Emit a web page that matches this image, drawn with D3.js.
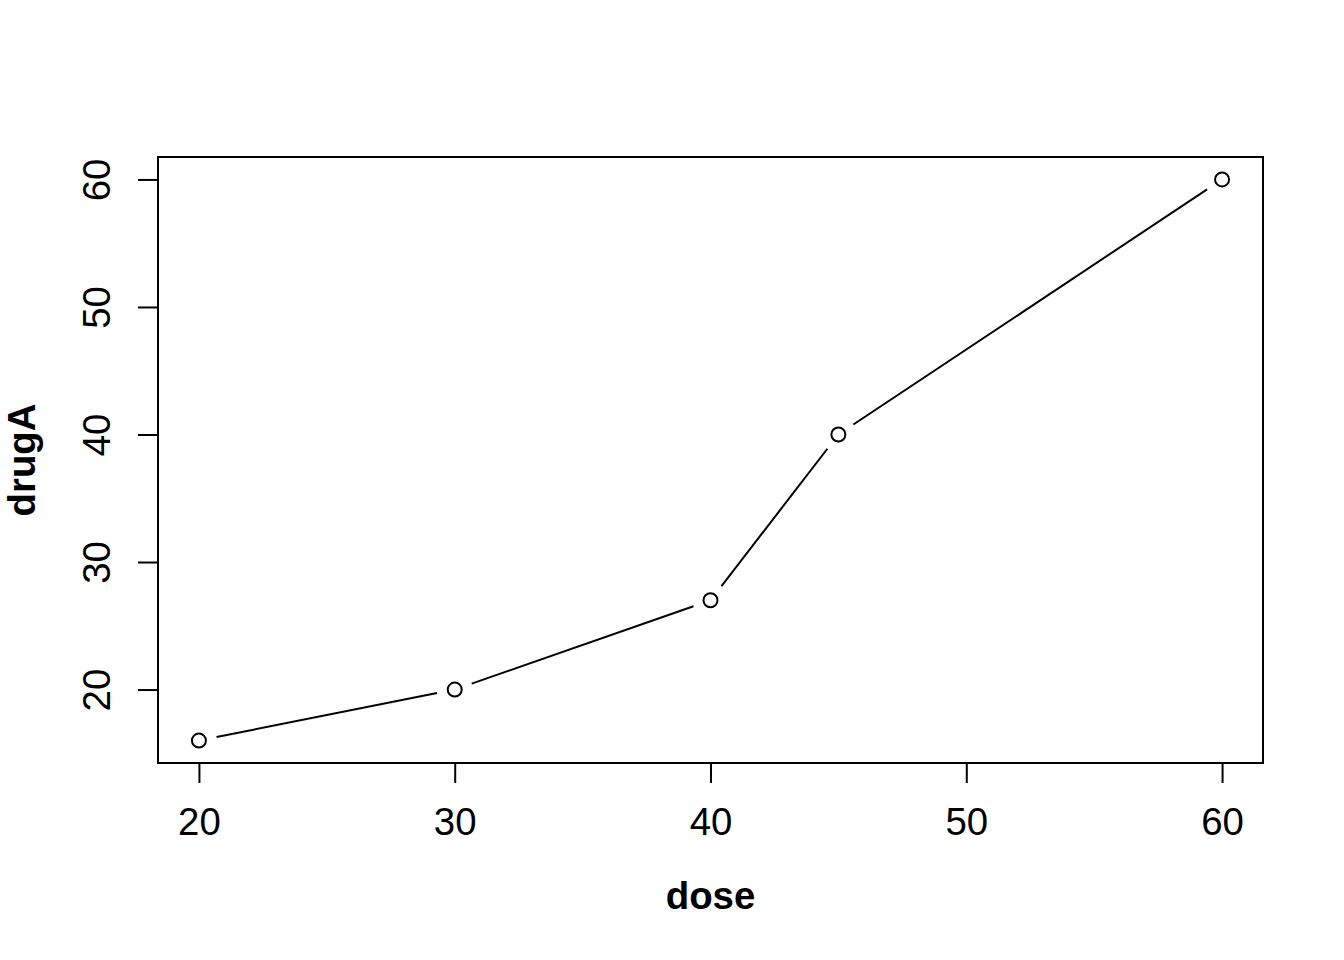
<!DOCTYPE html>
<html><head><meta charset="utf-8">
<script src="https://cdn.jsdelivr.net/npm/d3@7"></script>
<style>body{margin:0;background:#fff}</style>
</head><body>
<svg id="c" width="1344" height="960"></svg>
<script>
const dose = [20, 30, 40, 45, 60];
const drugA = [16, 20, 27, 40, 60];
const xTicks = [20, 30, 40, 50, 60];
const yTicks = [20, 30, 40, 50, 60];
const xLabel = "dose";
const yLabel = "drugA";

const svg = d3.select("#c");
const L = 158, R = 1263, T = 157, B = 763;
const font = "Liberation Sans, Arial, Helvetica, sans-serif";
const fs = 38.4;

const xe = (d3.max(dose) - d3.min(dose)) * 0.04;
const ye = (d3.max(drugA) - d3.min(drugA)) * 0.04;
const x = d3.scaleLinear().domain([d3.min(dose) - xe, d3.max(dose) + xe]).range([L, R]);
const y = d3.scaleLinear().domain([d3.min(drugA) - ye, d3.max(drugA) + ye]).range([B, T]);

svg.append("rect").attr("x", L).attr("y", T).attr("width", R - L).attr("height", B - T)
  .attr("fill", "none").attr("stroke", "#000").attr("stroke-width", 2);

const xa = svg.append("g").attr("transform", `translate(0,${B})`)
  .call(d3.axisBottom(x).tickValues(xTicks).tickSize(20).tickSizeOuter(0));
xa.select(".domain").remove();
xa.append("line").attr("x1", x(xTicks[0])).attr("x2", x(xTicks[xTicks.length-1])).attr("stroke", "#000").attr("stroke-width", 2);
xa.selectAll(".tick line").attr("stroke-width", 2);
xa.selectAll(".tick text").attr("font-family", font).attr("font-size", fs).attr("fill", "#000")
  .attr("y", 72).attr("dy", null);

const ya = svg.append("g").attr("transform", `translate(${L},0)`)
  .call(d3.axisLeft(y).tickValues(yTicks).tickSize(20).tickSizeOuter(0));
ya.select(".domain").remove();
ya.append("line").attr("y1", y(yTicks[0])).attr("y2", y(yTicks[yTicks.length-1])).attr("stroke", "#000").attr("stroke-width", 2);
ya.selectAll(".tick line").attr("stroke-width", 2);
ya.selectAll(".tick text").attr("font-family", font).attr("font-size", fs).attr("fill", "#000")
  .attr("x", 0).attr("y", 0).attr("dy", null).attr("text-anchor", "middle")
  .attr("transform", "translate(-48,0) rotate(-90)");

svg.append("text").attr("x", (L + R) / 2).attr("y", 909).attr("text-anchor", "middle")
  .attr("font-family", font).attr("font-size", fs).attr("font-weight", "bold").text(xLabel);
svg.append("text").attr("transform", `translate(35,${(T + B) / 2}) rotate(-90)`).attr("text-anchor", "middle")
  .attr("font-family", font).attr("font-size", fs).attr("font-weight", "bold").text(yLabel);

const pts = dose.map((d, i) => [x(d), y(drugA[i])]);
const gap = 18;
for (let i = 0; i < pts.length - 1; i++) {
  const [x1, y1] = pts[i], [x2, y2] = pts[i + 1];
  const len = Math.hypot(x2 - x1, y2 - y1);
  const ux = (x2 - x1) / len, uy = (y2 - y1) / len;
  svg.append("line").attr("x1", x1 + ux * gap).attr("y1", y1 + uy * gap)
    .attr("x2", x2 - ux * gap).attr("y2", y2 - uy * gap)
    .attr("stroke", "#000").attr("stroke-width", 2);
}
svg.selectAll("circle.pt").data(pts).enter().append("circle")
  .attr("cx", d => d[0]).attr("cy", d => d[1]).attr("r", 7)
  .attr("fill", "none").attr("stroke", "#000").attr("stroke-width", 2);
</script>
</body></html>
